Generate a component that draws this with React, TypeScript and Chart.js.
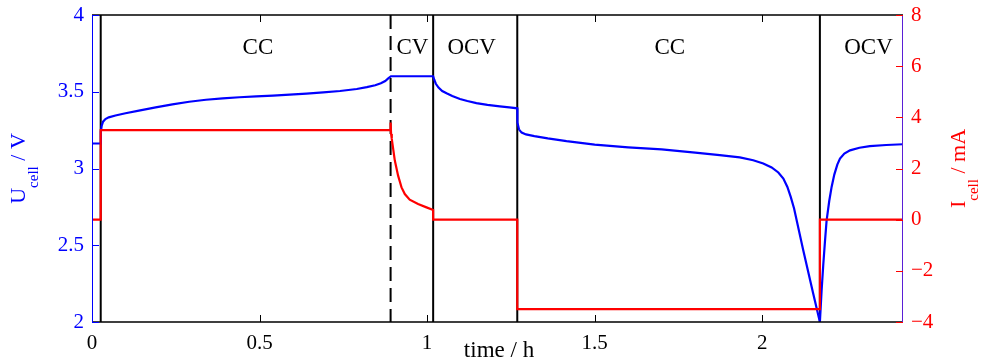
import React, { useEffect, useRef } from "react";
import { Chart, registerables } from "chart.js";

Chart.register(...registerables);

// ---------- data ----------
const timeMax = 2.42;
const xTicks = [0, 0.5, 1, 1.5, 2];
const voltageTicks = [2, 2.5, 3, 3.5, 4];
const currentTicks = [-4, -2, 0, 2, 4, 6, 8];

const voltageTime = [
  0, 0.026, 0.0265, 0.029, 0.033, 0.04, 0.05, 0.07, 0.1, 0.14, 0.19, 0.24, 0.29, 0.34, 0.39,
  0.44, 0.49, 0.54, 0.59, 0.64, 0.69, 0.74, 0.79, 0.82, 0.845, 0.862, 0.875, 0.884, 0.892,
  1.018, 1.021, 1.026, 1.034, 1.045, 1.058, 1.075, 1.098, 1.12, 1.147, 1.18, 1.217, 1.245, 1.269,
  1.2695, 1.274, 1.282, 1.295, 1.32, 1.36, 1.416, 1.5, 1.6, 1.7, 1.8, 1.873, 1.933, 1.973, 2.003,
  2.028, 2.048, 2.063, 2.075, 2.085, 2.095, 2.122, 2.152, 2.172,
  2.177, 2.182, 2.187, 2.192, 2.2, 2.207, 2.215, 2.224, 2.232, 2.245, 2.262, 2.29, 2.321, 2.37, 2.42,
];
const voltageValues = [
  3.163, 3.163, 3.24, 3.28, 3.305, 3.322, 3.333, 3.345, 3.36, 3.377, 3.398, 3.418, 3.435, 3.448, 3.457,
  3.464, 3.47, 3.475, 3.481, 3.488, 3.496, 3.505, 3.518, 3.53, 3.542, 3.555, 3.57, 3.587, 3.601,
  3.601, 3.58, 3.552, 3.527, 3.505, 3.49, 3.472, 3.453, 3.44, 3.426, 3.414, 3.405, 3.398, 3.392,
  3.3, 3.255, 3.234, 3.222, 3.211, 3.196, 3.178, 3.156, 3.138, 3.124, 3.104, 3.087, 3.072, 3.054, 3.033,
  3.007, 2.974, 2.935, 2.88, 2.815, 2.74, 2.47, 2.185, 2.0,
  2.2, 2.37, 2.52, 2.66, 2.79, 2.88, 2.96, 3.025, 3.065, 3.097, 3.118, 3.135, 3.146, 3.153, 3.158,
];

const currentTime = [
  0, 0.026, 0.026, 0.891, 0.891, 0.8925, 0.8945, 0.9036, 0.9134, 0.9236, 0.9334, 0.948, 0.973,
  0.998, 1.018, 1.018, 1.269, 1.269, 2.172, 2.172, 2.42,
];
const currentValues = [
  0, 0, 3.5, 3.5, 3.8, 3.35, 3.16, 2.31, 1.72, 1.26, 1.0, 0.78, 0.61,
  0.48, 0.38, 0, 0, -3.5, -3.5, 0, 0,
];

const phaseLines = [0.026, 0.891, 1.018, 1.269, 2.172];
const phaseDashed = [false, true, false, false, false];
const phaseNames = ["CC", "CV", "OCV", "CC", "OCV"];
const phaseLabelTimes = [0.495, 0.956, 1.133, 1.724, 2.317];

// ---------- styles ----------
const SERIF = "'Liberation Serif', 'Times New Roman', serif";
const BLUE = "#0000ff";
const RED = "#ff0000";

function drawRotated(
  ctx: CanvasRenderingContext2D,
  baseX: number,
  centerY: number,
  parts: { text: string; size: number; shift: number }[],
  color: string
) {
  ctx.save();
  ctx.translate(baseX, centerY);
  ctx.rotate(-Math.PI / 2);
  ctx.fillStyle = color;
  ctx.textBaseline = "alphabetic";
  ctx.textAlign = "left";
  let total = 0;
  const widths = parts.map((p) => {
    ctx.font = `${p.size}px ${SERIF}`;
    const w = ctx.measureText(p.text).width;
    total += w;
    return w;
  });
  let pos = -total / 2;
  parts.forEach((p, i) => {
    ctx.font = `${p.size}px ${SERIF}`;
    ctx.fillText(p.text, pos, p.shift);
    pos += widths[i];
  });
  ctx.restore();
}

const decorPlugin = {
  id: "decor",
  beforeDatasetsDraw(chart: any) {
    const { ctx, chartArea: a, scales } = chart;
    const x = scales.x;
    ctx.save();
    ctx.strokeStyle = "#000";
    ctx.lineWidth = 2;
    phaseLines.forEach((t, i) => {
      const px = x.getPixelForValue(t);
      ctx.setLineDash(phaseDashed[i] ? [14, 7] : []);
      ctx.beginPath();
      ctx.moveTo(px, a.top);
      ctx.lineTo(px, a.bottom);
      ctx.stroke();
    });
    ctx.restore();
  },
  afterDatasetsDraw(chart: any) {
    const { ctx, chartArea: a, scales } = chart;
    const x = scales.x;
    const yV = scales.yV;
    const yI = scales.yI;
    const tl = 7;
    ctx.save();
    ctx.setLineDash([]);
    // box top / bottom
    ctx.strokeStyle = "#000";
    ctx.lineWidth = 1.3;
    ctx.beginPath();
    ctx.moveTo(a.left, a.top);
    ctx.lineTo(a.right, a.top);
    ctx.moveTo(a.left, a.bottom);
    ctx.lineTo(a.right, a.bottom);
    ctx.stroke();
    // x ticks (inward, bottom and top)
    ctx.lineWidth = 1;
    ctx.beginPath();
    xTicks.forEach((t) => {
      const px = Math.round(x.getPixelForValue(t)) + 0.5;
      ctx.moveTo(px, a.bottom);
      ctx.lineTo(px, a.bottom - tl);
      ctx.moveTo(px, a.top);
      ctx.lineTo(px, a.top + tl);
    });
    ctx.stroke();
    // left axis
    ctx.strokeStyle = BLUE;
    ctx.beginPath();
    ctx.moveTo(a.left + 0.5, a.top);
    ctx.lineTo(a.left + 0.5, a.bottom);
    voltageTicks.forEach((v) => {
      const py = Math.round(yV.getPixelForValue(v)) + 0.5;
      ctx.moveTo(a.left, py);
      ctx.lineTo(a.left + tl, py);
    });
    ctx.stroke();
    // right axis
    ctx.strokeStyle = "#5a1fd6";
    ctx.beginPath();
    ctx.moveTo(a.right - 0.5, a.top);
    ctx.lineTo(a.right - 0.5, a.bottom);
    ctx.stroke();
    ctx.strokeStyle = RED;
    ctx.beginPath();
    currentTicks.forEach((v) => {
      const py = Math.round(yI.getPixelForValue(v)) + 0.5;
      ctx.moveTo(a.right, py);
      ctx.lineTo(a.right - tl, py);
    });
    ctx.stroke();

    // phase labels
    ctx.fillStyle = "#000";
    ctx.font = `23px ${SERIF}`;
    ctx.textAlign = "center";
    ctx.textBaseline = "alphabetic";
    phaseNames.forEach((n, i) => {
      ctx.fillText(n, x.getPixelForValue(phaseLabelTimes[i]), a.top + 39);
    });

    // x title
    ctx.font = `23px ${SERIF}`;
    ctx.fillText("time / h", 499, 357);

    // y titles
    drawRotated(
      ctx,
      25,
      (a.top + a.bottom) / 2,
      [
        { text: "U", size: 22, shift: 0 },
        { text: "cell", size: 15, shift: 13 },
        { text: " / V", size: 22, shift: 0 },
      ],
      BLUE
    );
    drawRotated(
      ctx,
      965,
      (a.top + a.bottom) / 2,
      [
        { text: "I", size: 22, shift: 0 },
        { text: "cell", size: 15, shift: 13 },
        { text: " / mA", size: 22, shift: 0 },
      ],
      RED
    );
    ctx.restore();
  },
};

export default function App() {
  const ref = useRef<HTMLCanvasElement | null>(null);

  useEffect(() => {
    document.body.style.margin = "0";
    const canvas = ref.current;
    if (!canvas) return;
    const voltagePts = voltageTime.map((t, i) => ({ x: t, y: voltageValues[i] }));
    const currentPts = currentTime.map((t, i) => ({ x: t, y: currentValues[i] }));
    const tickFont = { family: SERIF, size: 21 };
    const chart = new Chart(canvas, {
      type: "line",
      data: {
        datasets: [
          {
            label: "U_cell",
            data: voltagePts,
            yAxisID: "yV",
            borderColor: BLUE,
            borderWidth: 2.2,
            pointRadius: 0,
            tension: 0,
            fill: false,
            order: 2,
          },
          {
            label: "I_cell",
            data: currentPts,
            yAxisID: "yI",
            borderColor: RED,
            borderWidth: 2.2,
            pointRadius: 0,
            tension: 0,
            fill: false,
            order: 1,
          },
        ],
      },
      options: {
        animation: false,
        responsive: false,
        devicePixelRatio: 1,
        layout: { padding: { top: 15, left: 0, right: 0, bottom: 0 } },
        plugins: { legend: { display: false }, tooltip: { enabled: false } },
        scales: {
          x: {
            type: "linear",
            min: 0,
            max: timeMax,
            afterFit: (s: any) => {
              s.height = 42;
              s.paddingLeft = 0;
              s.paddingRight = 0;
            },
            afterBuildTicks: (s: any) => {
              s.ticks = xTicks.map((v) => ({ value: v }));
            },
            grid: { display: false, drawTicks: false },
            border: { display: false },
            ticks: {
              color: "#000",
              font: tickFont,
              padding: 9,
              maxRotation: 0,
              autoSkip: false,
              callback: (v: any) => String(v),
            },
          },
          yV: {
            type: "linear",
            position: "left",
            min: 2,
            max: 4,
            afterFit: (s: any) => {
              s.width = 92;
              s.paddingTop = 0;
              s.paddingBottom = 0;
            },
            afterBuildTicks: (s: any) => {
              s.ticks = voltageTicks.map((v) => ({ value: v }));
            },
            grid: { display: false, drawTicks: false },
            border: { display: false },
            ticks: {
              color: BLUE,
              font: tickFont,
              padding: 8,
              autoSkip: false,
              callback: (v: any) => String(v),
            },
          },
          yI: {
            type: "linear",
            position: "right",
            min: -4,
            max: 8,
            afterFit: (s: any) => {
              s.width = 79;
              s.paddingTop = 0;
              s.paddingBottom = 0;
            },
            afterBuildTicks: (s: any) => {
              s.ticks = currentTicks.map((v) => ({ value: v }));
            },
            grid: { display: false, drawTicks: false },
            border: { display: false },
            ticks: {
              color: RED,
              font: tickFont,
              padding: 8,
              autoSkip: false,
              callback: (v: any) => (v < 0 ? "\u2212" + Math.abs(v) : String(v)),
            },
          },
        },
      },
      plugins: [decorPlugin],
    });
    return () => chart.destroy();
  }, []);

  return (
    <div style={{ width: 982, height: 364 }}>
      <canvas ref={ref} width={982} height={364} style={{ display: "block" }} />
    </div>
  );
}
